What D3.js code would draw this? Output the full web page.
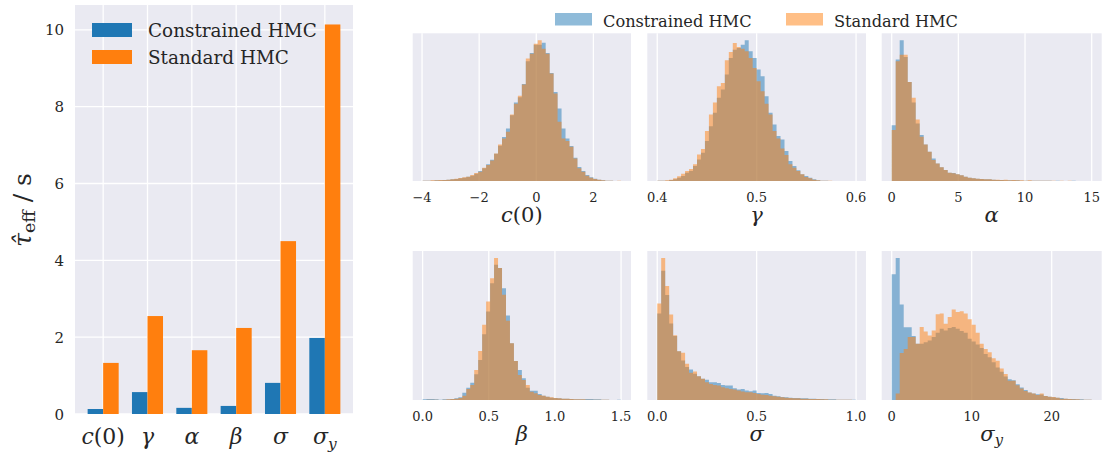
<!DOCTYPE html>
<html>
<head>
<meta charset="utf-8">
<script src="https://cdn.jsdelivr.net/npm/d3@7"></script>
<style>
  body { margin: 0; background: #fff; }
  svg { display: block; }
</style>
</head>
<body>
<svg id="chart" width="1104" height="454"></svg>
<script>
// ---- data ----
const params = ["c(0)", "γ", "α", "β", "σ", "σ_y"];
const seriesNames = ["Constrained HMC", "Standard HMC"];
const tauConstrained = [0.13, 0.57, 0.16, 0.21, 0.81, 1.98];
const tauStandard = [1.33, 2.55, 1.66, 2.24, 4.50, 10.14];
const tauTicks = [0, 2, 4, 6, 8, 10];

// histogram bin range per parameter (50 equal bins)
const histRanges = [[-3.98, 2.97], [0.40, 0.60], [0.0, 15.0], [0.0, 1.5], [0.0, 1.0], [0.0, 25.0]];
const histTicks = [[-4, -2, 0, 2], [0.4, 0.5, 0.6], [0, 5, 10, 15], [0, 0.5, 1, 1.5], [0, 0.5, 1], [0, 10, 20]];
const histTickFormats = ["d", ".1f", "d", ".1f", ".1f", "d"];

const c0Constrained = [1,1,1,2,2,3,4,5,6,8, 10,13,16,22,30,38,50,64,82,106, 132,158,198,236,252,292,360,385,410,410, 416,385,325,268,218,158,128,105,70,42, 30,18,11,7,4,2,1,1,0,0];
const c0Standard = [1,1,2,2,3,3,4,5,7,9, 11,13,18,24,28,40,48,62,83,110, 128,148,200,232,256,290,368,383,413,423, 398,383,323,263,178,128,120,103,68,38, 28,16,10,6,4,2,1,1,0,1];
const gammaConstrained = [1,1,1,3,5,10,15,25,30,45, 65,85,120,165,205,250,275,320,370,395, 400,410,423,390,370,335,315,255,205,170, 135,125,90,60,45,32,20,15,10,5, 2,1,1,0,0,0,0,0,0,0];
const gammaStandard = [1,1,2,4,8,14,22,30,36,50, 80,96,150,200,236,285,295,363,388,415, 403,398,390,370,340,300,270,232,200,150, 128,98,78,50,40,30,20,12,8,4, 2,1,1,1,0,0,0,0,0,0];
const alphaConstrained = [168,365,423,373,298,236,173,138,110,88, 68,53,41,33,25,24,20,17,13,10, 8,7,6,5,5,4,3,3,2,2, 2,2,1,1,1,1,1,1,1,1, 0,1,0,0,0,1,0,0,0,0];
const alphaStandard = [153,360,380,380,298,250,185,133,110,88, 63,53,41,33,25,23,20,17,13,10, 8,7,6,5,5,4,4,3,4,2, 3,2,2,1,2,1,1,1,1,1, 1,0,1,0,1,0,0,0,0,0];
const betaConstrained = [2,3,3,2,1,2,2,3,5,8, 22,37,52,77,120,197,265,350,405,395, 335,253,170,117,90,65,37,28,28,18, 13,10,7,6,5,4,4,3,2,2, 2,3,3,2,2,1,1,0,0,1];
const betaStandard = [0,1,1,1,0,1,2,3,4,6, 13,33,45,90,147,225,295,365,425,395, 315,237,170,117,75,60,45,25,20,15, 13,10,8,6,5,4,4,3,2,2, 2,1,1,1,1,1,1,0,0,0];
const sigmaConstrained = [258,385,313,228,191,145,118,98,91,78, 71,63,60,53,53,51,45,43,43,35, 31,33,28,26,28,21,20,21,18,13, 11,9,8,7,6,6,5,5,4,4, 3,3,2,2,2,1,1,1,1,1];
const sigmaStandard = [288,423,340,255,193,145,141,108,81,85, 71,63,53,48,45,43,38,35,33,31, 28,25,23,23,21,18,16,15,13,11, 10,8,7,6,5,5,4,4,3,3, 3,2,2,1,1,1,1,1,1,0];
const sigmaYConstrained = [374,422,284,216,216,190,167,167,172,177, 187,200,212,207,214,217,212,205,200,182, 174,165,155,137,127,112,97,84,70,62, 59,47,37,30,22,19,17,16,12,10, 8,7,6,4,3,3,2,2,1,1];
const sigmaYStandard = [0,19,140,152,187,187,167,217,204,192, 207,255,257,227,247,269,262,264,257,240, 224,200,167,152,142,124,117,94,77,57, 57,44,34,27,22,19,15,19,12,10, 9,7,4,4,3,2,2,1,1,1];

const histConstrained = [c0Constrained, gammaConstrained, alphaConstrained, betaConstrained, sigmaConstrained, sigmaYConstrained];
const histStandard = [c0Standard, gammaStandard, alphaStandard, betaStandard, sigmaStandard, sigmaYStandard];

// ---- style ----
const SERIF = "'DejaVu Serif', serif";
const TEXT = "#262626";
const BG = "#EAEAF2";
const BLUE = "#1f77b4";
const ORANGE = "#ff7f0e";

const svg = d3.select("#chart");

/**
 * mathLabel: writes a parameter name as italic symbol, upright "(0)", italic subscript
 */
function mathLabel(text, label) {
    const [main, sub] = label.split("_");
    text.append("tspan").attr("font-style", "italic").text(main[0]);
    if (main.length > 1) text.append("tspan").text(main.slice(1));
    if (sub) {
        text.append("tspan").attr("font-style", "italic")
            .attr("font-size", "0.7em").attr("dy", "0.3em").text(sub);
    }
}

// ---- left: bar chart ----
const bar = { left: 75, right: 353, top: 5, bottom: 414 };
const xBar = d3.scaleLinear().domain([-0.635, params.length - 1 + 0.635]).range([bar.left, bar.right]);
const yBar = d3.scaleLinear().domain([0, d3.max(tauStandard) * 1.05]).range([bar.bottom, bar.top]);
const barW = 0.35;

const gBar = svg.append("g");
gBar.append("rect")
    .attr("x", bar.left).attr("y", bar.top)
    .attr("width", bar.right - bar.left).attr("height", bar.bottom - bar.top)
    .attr("fill", BG);

gBar.selectAll(".hgrid").data(tauTicks).enter().append("line")
    .attr("x1", bar.left).attr("x2", bar.right)
    .attr("y1", d => yBar(d)).attr("y2", d => yBar(d))
    .attr("stroke", "#fff").attr("stroke-width", 1.3);
gBar.selectAll(".vgrid").data(params).enter().append("line")
    .attr("x1", (d, i) => xBar(i)).attr("x2", (d, i) => xBar(i))
    .attr("y1", bar.top).attr("y2", bar.bottom)
    .attr("stroke", "#fff").attr("stroke-width", 1.3);

gBar.selectAll(".barC").data(tauConstrained).enter().append("rect")
    .attr("x", (d, i) => xBar(i - barW))
    .attr("width", (d, i) => xBar(i) - xBar(i - barW))
    .attr("y", d => yBar(d))
    .attr("height", d => yBar(0) - yBar(d))
    .attr("fill", BLUE);
gBar.selectAll(".barS").data(tauStandard).enter().append("rect")
    .attr("x", (d, i) => xBar(i))
    .attr("width", (d, i) => xBar(i + barW) - xBar(i))
    .attr("y", d => yBar(d))
    .attr("height", d => yBar(0) - yBar(d))
    .attr("fill", ORANGE);

gBar.selectAll(".ytick").data(tauTicks).enter().append("text")
    .attr("x", 64).attr("y", d => yBar(d) + 5.5)
    .attr("text-anchor", "end")
    .attr("font-family", SERIF).attr("font-size", 15).attr("fill", TEXT)
    .text(d => d);

gBar.selectAll(".xtick").data(params).enter().append("text")
    .attr("x", (d, i) => xBar(i)).attr("y", 444)
    .attr("text-anchor", "middle")
    .attr("font-family", SERIF).attr("font-size", 22).attr("fill", TEXT)
    .each(function(d) { mathLabel(d3.select(this), d); });

// y label: tau-hat_eff / s
const yLab = svg.append("text")
    .attr("transform", "translate(31,210) rotate(-90)")
    .attr("text-anchor", "middle")
    .attr("font-family", SERIF).attr("font-size", 25).attr("fill", TEXT)
    .attr("xml:space", "preserve");
yLab.append("tspan").attr("font-style", "italic").text("τ\u0302");
yLab.append("tspan").attr("font-size", "0.7em").attr("dy", "0.25em").text("eff");
yLab.append("tspan").attr("dy", "-0.18em").text("\u00a0/\u00a0s");

// legend of bar chart
const barLegend = gBar.selectAll(".leg").data(seriesNames).enter().append("g")
    .attr("transform", (d, i) => `translate(92,${23 + i * 27})`);
barLegend.append("rect")
    .attr("width", 40).attr("height", 14)
    .attr("fill", (d, i) => i === 0 ? BLUE : ORANGE);
barLegend.append("text")
    .attr("x", 56).attr("y", 14)
    .attr("font-family", SERIF).attr("font-size", 18.4).attr("fill", TEXT)
    .text(d => d);

// ---- right: histogram grid ----
const cols = [[412.7, 631], [647.3, 866], [881.7, 1101.7]];
const rows = [[33.3, 181], [251, 400]];

params.forEach((p, k) => {
    const [x0, x1] = cols[k % 3];
    const [y0, y1] = rows[Math.floor(k / 3)];
    const [lo, hi] = histRanges[k];
    const span = hi - lo;
    const x = d3.scaleLinear().domain([lo - 0.05 * span, hi + 0.05 * span]).range([x0, x1]);
    const top = d3.max([...histConstrained[k], ...histStandard[k]]);
    const y = d3.scaleLinear().domain([0, top * 1.05]).range([y1, y0]);

    const g = svg.append("g");
    g.append("rect")
        .attr("x", x0).attr("y", y0)
        .attr("width", x1 - x0).attr("height", y1 - y0)
        .attr("fill", BG);

    g.selectAll(".grid").data(histTicks[k]).enter().append("line")
        .attr("x1", d => x(d)).attr("x2", d => x(d))
        .attr("y1", y0).attr("y2", y1)
        .attr("stroke", "#fff").attr("stroke-width", 1.3);

    [[histConstrained[k], BLUE], [histStandard[k], ORANGE]].forEach(([counts, color]) => {
        const w = span / counts.length;
        const bins = counts.map((c, i) => ({ x: lo + i * w, c }));
        bins.push({ x: hi, c: counts[counts.length - 1] });
        const area = d3.area()
            .curve(d3.curveStepAfter)
            .x(d => x(d.x))
            .y0(y(0))
            .y1(d => y(d.c));
        g.append("path").attr("d", area(bins))
            .attr("fill", color).attr("fill-opacity", 0.5);
    });

    const fmt = d3.format(histTickFormats[k]);
    g.selectAll(".tick").data(histTicks[k]).enter().append("text")
        .attr("x", d => x(d)).attr("y", y1 + 20.5)
        .attr("text-anchor", "middle")
        .attr("font-family", SERIF).attr("font-size", 13).attr("fill", TEXT)
        .text(d => fmt(d));

    const lab = g.append("text")
        .attr("x", (x0 + x1) / 2).attr("y", y1 + 41)
        .attr("text-anchor", "middle")
        .attr("font-family", SERIF).attr("font-size", 21).attr("fill", TEXT);
    mathLabel(lab, p);
});

// top legend
const topLegend = svg.selectAll(".tleg").data(seriesNames).enter().append("g")
    .attr("transform", (d, i) => `translate(${i === 0 ? 555 : 786},13)`);
topLegend.append("rect")
    .attr("width", 37).attr("height", 12.5)
    .attr("fill", (d, i) => i === 0 ? BLUE : ORANGE)
    .attr("fill-opacity", 0.5);
topLegend.append("text")
    .attr("x", 48)
    .attr("y", 13.5)
    .attr("font-family", SERIF).attr("font-size", 16.2).attr("fill", TEXT)
    .text(d => d);
</script>
</body>
</html>
